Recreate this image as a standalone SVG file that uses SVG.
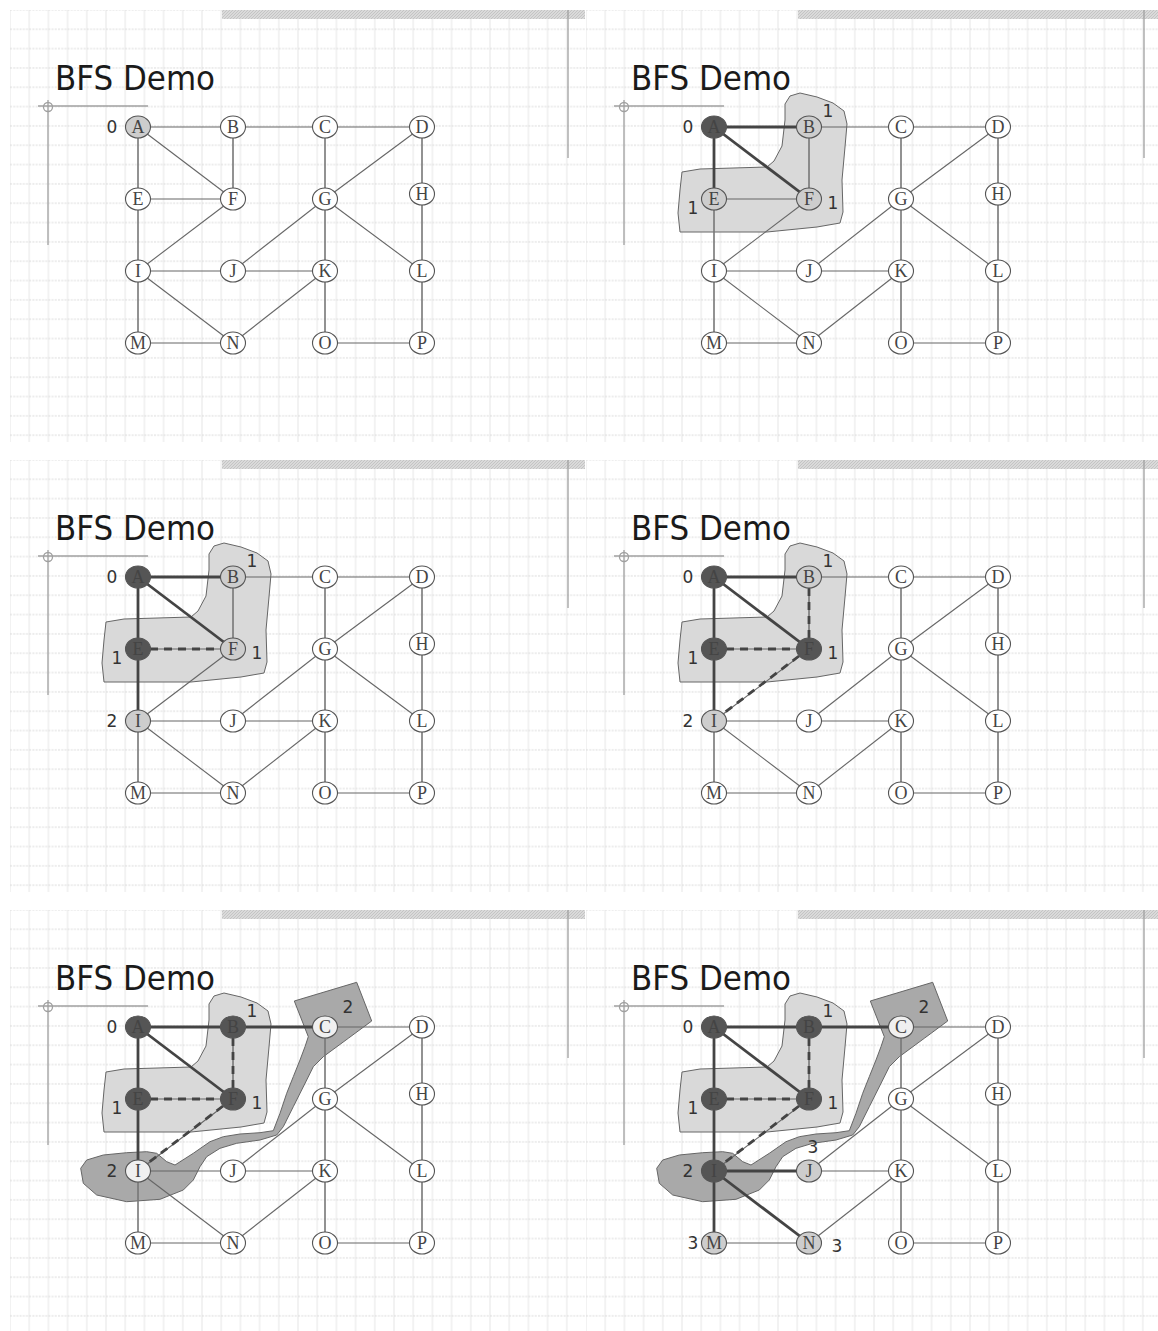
<svg xmlns="http://www.w3.org/2000/svg" xmlns:xlink="http://www.w3.org/1999/xlink" width="1158" height="1331" viewBox="0 0 1158 1331">
<style>
.e{stroke:#666;stroke-width:1.1;fill:none}
.ev{stroke:#777;stroke-width:1.6;fill:none}
.t{stroke:#444;stroke-width:2.8;fill:none}
.ds{stroke:#444;stroke-width:2.8;fill:none;stroke-dasharray:8,6}
.node ellipse{stroke:#555;stroke-width:1.1}
.w{fill:#fff}.l{fill:#cdcdcd}.d{fill:#555}.x{fill:#f0f0f0}
.node text{font-family:"Liberation Serif","Times New Roman",serif;font-size:18px;fill:#444;text-anchor:middle}
.lab{font-family:"DejaVu Sans","Liberation Sans",sans-serif;font-size:17px;fill:#333;text-anchor:middle}
.title{font-family:"DejaVu Sans","Liberation Sans",sans-serif;font-size:33px;fill:#1a1a1a}
.blob1{fill:#d9d9d9;stroke:#666;stroke-width:1}
.blob2{fill:#a9a9a9;stroke:#666;stroke-width:1}
.deco{stroke:#a0a0a0;stroke-width:1.3;fill:none}
</style>
<defs>
<pattern id="grid" patternUnits="userSpaceOnUse" x="19.6" y="19.6" width="19.2" height="19.33">
<line x1="9.6" y1="0" x2="9.6" y2="19.33" stroke="#e6e6e6" stroke-width="1"/>
<line x1="0" y1="9.67" x2="19.2" y2="9.67" stroke="#d9d9d9" stroke-width="1" stroke-dasharray="2,1.2"/>
</pattern>
<pattern id="hatch" patternUnits="userSpaceOnUse" width="3" height="3">
<rect width="3" height="3" fill="#dadada"/>
<path d="M0,3 L3,0" stroke="#c4c4c4" stroke-width="1"/>
</pattern>
<g id="bg">
<rect x="10" y="10" width="575" height="432" fill="#fff"/>
<rect x="10" y="10" width="575" height="432" fill="url(#grid)"/>
<rect x="222" y="10" width="363" height="9" fill="url(#hatch)"/>
<line class="deco" x1="568" y1="10" x2="568" y2="158"/>
<line class="deco" x1="38" y1="106" x2="148" y2="106"/>
<line class="deco" x1="48" y1="100" x2="48" y2="245"/>
<circle class="deco" cx="48" cy="107" r="4.5"/>
<text class="title" x="55" y="90" textLength="160" lengthAdjust="spacingAndGlyphs">BFS Demo</text>
</g>
<path id="blobL" class="blob1" d="M209,104 L214,96 L224,93 L241,97 L257,103 L268,111 L271,124 L269,147 L266,180 L267,212 L264,223 L241,227 L191,232 L104,232 L102,213 L104,190 L106,172 L124,169 L191,167 L198,161 L206,146 L209,120 Z"/>
<path id="blobD" class="blob2" d="M294.3,101 L356.7,82.3 L371.7,121 L348.3,138.3 L323.3,156.7 L313.3,166.7 L306.7,180 L293.3,206.7 L283.3,226.7 L276.7,235 L260,240 L236.7,243.3 L220,248.3 L206.7,256.7 L200,266.7 L193.3,280 L183.3,290 L160,299.3 L126.7,301.7 L96.7,295 L83.3,283.3 L80.7,268.3 L86.7,260 L103.3,255 L126.7,252.7 L146.7,251.7 L156.7,253.3 L166.7,261.7 L175,265 L193.3,253.3 L210,241.7 L223.3,236.7 L240,234 L260,232.7 L273.3,230.7 L280,213.3 L286.7,193.3 L293.3,176.7 L300,160 L305,146.7 L308.3,136.7 Z"/>
<g id="baseEdges">
<line class="e" x1="138" y1="127" x2="233" y2="127"/>
<line class="e" x1="233" y1="127" x2="325" y2="127"/>
<line class="e" x1="325" y1="127" x2="422" y2="127"/>
<line class="ev" x1="138" y1="127" x2="138" y2="199"/>
<line class="e" x1="138" y1="127" x2="233" y2="199"/>
<line class="ev" x1="233" y1="127" x2="233" y2="199"/>
<line class="e" x1="138" y1="199" x2="233" y2="199"/>
<line class="ev" x1="325" y1="127" x2="325" y2="199"/>
<line class="e" x1="422" y1="127" x2="325" y2="199"/>
<line class="ev" x1="422" y1="127" x2="422" y2="194"/>
<line class="ev" x1="422" y1="194" x2="422" y2="271"/>
<line class="ev" x1="138" y1="199" x2="138" y2="271"/>
<line class="e" x1="233" y1="199" x2="138" y2="271"/>
<line class="e" x1="325" y1="199" x2="233" y2="271"/>
<line class="ev" x1="325" y1="199" x2="325" y2="271"/>
<line class="e" x1="325" y1="199" x2="422" y2="271"/>
<line class="e" x1="138" y1="271" x2="233" y2="271"/>
<line class="e" x1="233" y1="271" x2="325" y2="271"/>
<line class="ev" x1="138" y1="271" x2="138" y2="343"/>
<line class="e" x1="138" y1="271" x2="233" y2="343"/>
<line class="e" x1="325" y1="271" x2="233" y2="343"/>
<line class="ev" x1="325" y1="271" x2="325" y2="343"/>
<line class="e" x1="138" y1="343" x2="233" y2="343"/>
<line class="e" x1="325" y1="343" x2="422" y2="343"/>
<line class="ev" x1="422" y1="271" x2="422" y2="343"/>
</g>
</defs>

<!-- Panel 1 -->
<g id="panel1">
<use xlink:href="#bg" href="#bg"/>
<g id="p1-connectors"><use xlink:href="#baseEdges" href="#baseEdges"/></g>
<g id="p1-A" class="node"><ellipse class="l" cx="138" cy="127" rx="12.5" ry="11"/><text x="138" y="133">A</text></g>
<g id="p1-B" class="node"><ellipse class="w" cx="233" cy="127" rx="12.5" ry="11"/><text x="233" y="133">B</text></g>
<g id="p1-C" class="node"><ellipse class="w" cx="325" cy="127" rx="12.5" ry="11"/><text x="325" y="133">C</text></g>
<g id="p1-D" class="node"><ellipse class="w" cx="422" cy="127" rx="12.5" ry="11"/><text x="422" y="133">D</text></g>
<g id="p1-E" class="node"><ellipse class="w" cx="138" cy="199" rx="12.5" ry="11"/><text x="138" y="205">E</text></g>
<g id="p1-F" class="node"><ellipse class="w" cx="233" cy="199" rx="12.5" ry="11"/><text x="233" y="205">F</text></g>
<g id="p1-G" class="node"><ellipse class="w" cx="325" cy="199" rx="12.5" ry="11"/><text x="325" y="205">G</text></g>
<g id="p1-H" class="node"><ellipse class="w" cx="422" cy="194" rx="12.5" ry="11"/><text x="422" y="200">H</text></g>
<g id="p1-I" class="node"><ellipse class="w" cx="138" cy="271" rx="12.5" ry="11"/><text x="138" y="277">I</text></g>
<g id="p1-J" class="node"><ellipse class="w" cx="233" cy="271" rx="12.5" ry="11"/><text x="233" y="277">J</text></g>
<g id="p1-K" class="node"><ellipse class="w" cx="325" cy="271" rx="12.5" ry="11"/><text x="325" y="277">K</text></g>
<g id="p1-L" class="node"><ellipse class="w" cx="422" cy="271" rx="12.5" ry="11"/><text x="422" y="277">L</text></g>
<g id="p1-M" class="node"><ellipse class="w" cx="138" cy="343" rx="12.5" ry="11"/><text x="138" y="349">M</text></g>
<g id="p1-N" class="node"><ellipse class="w" cx="233" cy="343" rx="12.5" ry="11"/><text x="233" y="349">N</text></g>
<g id="p1-O" class="node"><ellipse class="w" cx="325" cy="343" rx="12.5" ry="11"/><text x="325" y="349">O</text></g>
<g id="p1-P" class="node"><ellipse class="w" cx="422" cy="343" rx="12.5" ry="11"/><text x="422" y="349">P</text></g>
<text class="lab" x="112" y="133">0</text>
</g>

<!-- Panel 2 -->
<g id="panel2" transform="translate(576,0)">
<use xlink:href="#bg" href="#bg"/>
<use xlink:href="#blobL" href="#blobL"/>
<g id="p2-connectors"><use xlink:href="#baseEdges" href="#baseEdges"/>
<line class="t" x1="138" y1="127" x2="233" y2="127"/>
<line class="t" x1="138" y1="127" x2="138" y2="199"/>
<line class="t" x1="138" y1="127" x2="233" y2="199"/>
</g>
<g id="p2-A" class="node"><ellipse class="d" cx="138" cy="127" rx="12.5" ry="11"/><text x="138" y="133">A</text></g>
<g id="p2-B" class="node"><ellipse class="l" cx="233" cy="127" rx="12.5" ry="11"/><text x="233" y="133">B</text></g>
<g id="p2-C" class="node"><ellipse class="w" cx="325" cy="127" rx="12.5" ry="11"/><text x="325" y="133">C</text></g>
<g id="p2-D" class="node"><ellipse class="w" cx="422" cy="127" rx="12.5" ry="11"/><text x="422" y="133">D</text></g>
<g id="p2-E" class="node"><ellipse class="l" cx="138" cy="199" rx="12.5" ry="11"/><text x="138" y="205">E</text></g>
<g id="p2-F" class="node"><ellipse class="l" cx="233" cy="199" rx="12.5" ry="11"/><text x="233" y="205">F</text></g>
<g id="p2-G" class="node"><ellipse class="w" cx="325" cy="199" rx="12.5" ry="11"/><text x="325" y="205">G</text></g>
<g id="p2-H" class="node"><ellipse class="w" cx="422" cy="194" rx="12.5" ry="11"/><text x="422" y="200">H</text></g>
<g id="p2-I" class="node"><ellipse class="w" cx="138" cy="271" rx="12.5" ry="11"/><text x="138" y="277">I</text></g>
<g id="p2-J" class="node"><ellipse class="w" cx="233" cy="271" rx="12.5" ry="11"/><text x="233" y="277">J</text></g>
<g id="p2-K" class="node"><ellipse class="w" cx="325" cy="271" rx="12.5" ry="11"/><text x="325" y="277">K</text></g>
<g id="p2-L" class="node"><ellipse class="w" cx="422" cy="271" rx="12.5" ry="11"/><text x="422" y="277">L</text></g>
<g id="p2-M" class="node"><ellipse class="w" cx="138" cy="343" rx="12.5" ry="11"/><text x="138" y="349">M</text></g>
<g id="p2-N" class="node"><ellipse class="w" cx="233" cy="343" rx="12.5" ry="11"/><text x="233" y="349">N</text></g>
<g id="p2-O" class="node"><ellipse class="w" cx="325" cy="343" rx="12.5" ry="11"/><text x="325" y="349">O</text></g>
<g id="p2-P" class="node"><ellipse class="w" cx="422" cy="343" rx="12.5" ry="11"/><text x="422" y="349">P</text></g>
<text class="lab" x="112" y="133">0</text>
<text class="lab" x="252" y="117">1</text>
<text class="lab" x="117" y="214">1</text>
<text class="lab" x="257" y="209">1</text>
</g>

<!-- Panel 3 -->
<g id="panel3" transform="translate(0,450)">
<use xlink:href="#bg" href="#bg"/>
<use xlink:href="#blobL" href="#blobL"/>
<g id="p3-connectors"><use xlink:href="#baseEdges" href="#baseEdges"/>
<line class="t" x1="138" y1="127" x2="233" y2="127"/>
<line class="t" x1="138" y1="127" x2="138" y2="199"/>
<line class="t" x1="138" y1="127" x2="233" y2="199"/>
<line class="t" x1="138" y1="199" x2="138" y2="271"/>
<line class="ds" x1="150" y1="199" x2="221" y2="199"/>
</g>
<g id="p3-A" class="node"><ellipse class="d" cx="138" cy="127" rx="12.5" ry="11"/><text x="138" y="133">A</text></g>
<g id="p3-B" class="node"><ellipse class="l" cx="233" cy="127" rx="12.5" ry="11"/><text x="233" y="133">B</text></g>
<g id="p3-C" class="node"><ellipse class="w" cx="325" cy="127" rx="12.5" ry="11"/><text x="325" y="133">C</text></g>
<g id="p3-D" class="node"><ellipse class="w" cx="422" cy="127" rx="12.5" ry="11"/><text x="422" y="133">D</text></g>
<g id="p3-E" class="node"><ellipse class="d" cx="138" cy="199" rx="12.5" ry="11"/><text x="138" y="205">E</text></g>
<g id="p3-F" class="node"><ellipse class="l" cx="233" cy="199" rx="12.5" ry="11"/><text x="233" y="205">F</text></g>
<g id="p3-G" class="node"><ellipse class="w" cx="325" cy="199" rx="12.5" ry="11"/><text x="325" y="205">G</text></g>
<g id="p3-H" class="node"><ellipse class="w" cx="422" cy="194" rx="12.5" ry="11"/><text x="422" y="200">H</text></g>
<g id="p3-I" class="node"><ellipse class="l" cx="138" cy="271" rx="12.5" ry="11"/><text x="138" y="277">I</text></g>
<g id="p3-J" class="node"><ellipse class="w" cx="233" cy="271" rx="12.5" ry="11"/><text x="233" y="277">J</text></g>
<g id="p3-K" class="node"><ellipse class="w" cx="325" cy="271" rx="12.5" ry="11"/><text x="325" y="277">K</text></g>
<g id="p3-L" class="node"><ellipse class="w" cx="422" cy="271" rx="12.5" ry="11"/><text x="422" y="277">L</text></g>
<g id="p3-M" class="node"><ellipse class="w" cx="138" cy="343" rx="12.5" ry="11"/><text x="138" y="349">M</text></g>
<g id="p3-N" class="node"><ellipse class="w" cx="233" cy="343" rx="12.5" ry="11"/><text x="233" y="349">N</text></g>
<g id="p3-O" class="node"><ellipse class="w" cx="325" cy="343" rx="12.5" ry="11"/><text x="325" y="349">O</text></g>
<g id="p3-P" class="node"><ellipse class="w" cx="422" cy="343" rx="12.5" ry="11"/><text x="422" y="349">P</text></g>
<text class="lab" x="112" y="133">0</text>
<text class="lab" x="252" y="117">1</text>
<text class="lab" x="117" y="214">1</text>
<text class="lab" x="257" y="209">1</text>
<text class="lab" x="112" y="277">2</text>
</g>

<!-- Panel 4 -->
<g id="panel4" transform="translate(576,450)">
<use xlink:href="#bg" href="#bg"/>
<use xlink:href="#blobL" href="#blobL"/>
<g id="p4-connectors"><use xlink:href="#baseEdges" href="#baseEdges"/>
<line class="t" x1="138" y1="127" x2="233" y2="127"/>
<line class="t" x1="138" y1="127" x2="138" y2="199"/>
<line class="t" x1="138" y1="127" x2="233" y2="199"/>
<line class="t" x1="138" y1="199" x2="138" y2="271"/>
<line class="ds" x1="150" y1="199" x2="221" y2="199"/>
<line class="ds" x1="233" y1="138" x2="233" y2="188"/>
<line class="ds" x1="223" y1="206" x2="148" y2="263"/>
</g>
<g id="p4-A" class="node"><ellipse class="d" cx="138" cy="127" rx="12.5" ry="11"/><text x="138" y="133">A</text></g>
<g id="p4-B" class="node"><ellipse class="l" cx="233" cy="127" rx="12.5" ry="11"/><text x="233" y="133">B</text></g>
<g id="p4-C" class="node"><ellipse class="w" cx="325" cy="127" rx="12.5" ry="11"/><text x="325" y="133">C</text></g>
<g id="p4-D" class="node"><ellipse class="w" cx="422" cy="127" rx="12.5" ry="11"/><text x="422" y="133">D</text></g>
<g id="p4-E" class="node"><ellipse class="d" cx="138" cy="199" rx="12.5" ry="11"/><text x="138" y="205">E</text></g>
<g id="p4-F" class="node"><ellipse class="d" cx="233" cy="199" rx="12.5" ry="11"/><text x="233" y="205">F</text></g>
<g id="p4-G" class="node"><ellipse class="w" cx="325" cy="199" rx="12.5" ry="11"/><text x="325" y="205">G</text></g>
<g id="p4-H" class="node"><ellipse class="w" cx="422" cy="194" rx="12.5" ry="11"/><text x="422" y="200">H</text></g>
<g id="p4-I" class="node"><ellipse class="l" cx="138" cy="271" rx="12.5" ry="11"/><text x="138" y="277">I</text></g>
<g id="p4-J" class="node"><ellipse class="w" cx="233" cy="271" rx="12.5" ry="11"/><text x="233" y="277">J</text></g>
<g id="p4-K" class="node"><ellipse class="w" cx="325" cy="271" rx="12.5" ry="11"/><text x="325" y="277">K</text></g>
<g id="p4-L" class="node"><ellipse class="w" cx="422" cy="271" rx="12.5" ry="11"/><text x="422" y="277">L</text></g>
<g id="p4-M" class="node"><ellipse class="w" cx="138" cy="343" rx="12.5" ry="11"/><text x="138" y="349">M</text></g>
<g id="p4-N" class="node"><ellipse class="w" cx="233" cy="343" rx="12.5" ry="11"/><text x="233" y="349">N</text></g>
<g id="p4-O" class="node"><ellipse class="w" cx="325" cy="343" rx="12.5" ry="11"/><text x="325" y="349">O</text></g>
<g id="p4-P" class="node"><ellipse class="w" cx="422" cy="343" rx="12.5" ry="11"/><text x="422" y="349">P</text></g>
<text class="lab" x="112" y="133">0</text>
<text class="lab" x="252" y="117">1</text>
<text class="lab" x="117" y="214">1</text>
<text class="lab" x="257" y="209">1</text>
<text class="lab" x="112" y="277">2</text>
</g>

<!-- Panel 5 -->
<g id="panel5" transform="translate(0,900)">
<use xlink:href="#bg" href="#bg"/>
<use xlink:href="#blobL" href="#blobL"/>
<use xlink:href="#blobD" href="#blobD"/>
<g id="p5-connectors"><use xlink:href="#baseEdges" href="#baseEdges"/>
<line class="t" x1="138" y1="127" x2="233" y2="127"/>
<line class="t" x1="233" y1="127" x2="325" y2="127"/>
<line class="t" x1="138" y1="127" x2="138" y2="199"/>
<line class="t" x1="138" y1="127" x2="233" y2="199"/>
<line class="t" x1="138" y1="199" x2="138" y2="271"/>
<line class="ds" x1="150" y1="199" x2="221" y2="199"/>
<line class="ds" x1="233" y1="138" x2="233" y2="188"/>
<line class="ds" x1="223" y1="206" x2="148" y2="263"/>
</g>
<g id="p5-A" class="node"><ellipse class="d" cx="138" cy="127" rx="12.5" ry="11"/><text x="138" y="133">A</text></g>
<g id="p5-B" class="node"><ellipse class="d" cx="233" cy="127" rx="12.5" ry="11"/><text x="233" y="133">B</text></g>
<g id="p5-C" class="node"><ellipse class="x" cx="325" cy="127" rx="12.5" ry="11"/><text x="325" y="133">C</text></g>
<g id="p5-D" class="node"><ellipse class="w" cx="422" cy="127" rx="12.5" ry="11"/><text x="422" y="133">D</text></g>
<g id="p5-E" class="node"><ellipse class="d" cx="138" cy="199" rx="12.5" ry="11"/><text x="138" y="205">E</text></g>
<g id="p5-F" class="node"><ellipse class="d" cx="233" cy="199" rx="12.5" ry="11"/><text x="233" y="205">F</text></g>
<g id="p5-G" class="node"><ellipse class="w" cx="325" cy="199" rx="12.5" ry="11"/><text x="325" y="205">G</text></g>
<g id="p5-H" class="node"><ellipse class="w" cx="422" cy="194" rx="12.5" ry="11"/><text x="422" y="200">H</text></g>
<g id="p5-I" class="node"><ellipse class="x" cx="138" cy="271" rx="12.5" ry="11"/><text x="138" y="277">I</text></g>
<g id="p5-J" class="node"><ellipse class="w" cx="233" cy="271" rx="12.5" ry="11"/><text x="233" y="277">J</text></g>
<g id="p5-K" class="node"><ellipse class="w" cx="325" cy="271" rx="12.5" ry="11"/><text x="325" y="277">K</text></g>
<g id="p5-L" class="node"><ellipse class="w" cx="422" cy="271" rx="12.5" ry="11"/><text x="422" y="277">L</text></g>
<g id="p5-M" class="node"><ellipse class="w" cx="138" cy="343" rx="12.5" ry="11"/><text x="138" y="349">M</text></g>
<g id="p5-N" class="node"><ellipse class="w" cx="233" cy="343" rx="12.5" ry="11"/><text x="233" y="349">N</text></g>
<g id="p5-O" class="node"><ellipse class="w" cx="325" cy="343" rx="12.5" ry="11"/><text x="325" y="349">O</text></g>
<g id="p5-P" class="node"><ellipse class="w" cx="422" cy="343" rx="12.5" ry="11"/><text x="422" y="349">P</text></g>
<text class="lab" x="112" y="133">0</text>
<text class="lab" x="252" y="117">1</text>
<text class="lab" x="117" y="214">1</text>
<text class="lab" x="257" y="209">1</text>
<text class="lab" x="112" y="277">2</text>
<text class="lab" x="348" y="113">2</text>
</g>

<!-- Panel 6 -->
<g id="panel6" transform="translate(576,900)">
<use xlink:href="#bg" href="#bg"/>
<use xlink:href="#blobL" href="#blobL"/>
<use xlink:href="#blobD" href="#blobD"/>
<g id="p6-connectors"><use xlink:href="#baseEdges" href="#baseEdges"/>
<line class="t" x1="138" y1="127" x2="233" y2="127"/>
<line class="t" x1="233" y1="127" x2="325" y2="127"/>
<line class="t" x1="138" y1="127" x2="138" y2="199"/>
<line class="t" x1="138" y1="127" x2="233" y2="199"/>
<line class="t" x1="138" y1="199" x2="138" y2="271"/>
<line class="t" x1="138" y1="271" x2="233" y2="271"/>
<line class="t" x1="138" y1="271" x2="138" y2="343"/>
<line class="t" x1="138" y1="271" x2="233" y2="343"/>
<line class="ds" x1="150" y1="199" x2="221" y2="199"/>
<line class="ds" x1="233" y1="138" x2="233" y2="188"/>
<line class="ds" x1="223" y1="206" x2="148" y2="263"/>
</g>
<g id="p6-A" class="node"><ellipse class="d" cx="138" cy="127" rx="12.5" ry="11"/><text x="138" y="133">A</text></g>
<g id="p6-B" class="node"><ellipse class="d" cx="233" cy="127" rx="12.5" ry="11"/><text x="233" y="133">B</text></g>
<g id="p6-C" class="node"><ellipse class="x" cx="325" cy="127" rx="12.5" ry="11"/><text x="325" y="133">C</text></g>
<g id="p6-D" class="node"><ellipse class="w" cx="422" cy="127" rx="12.5" ry="11"/><text x="422" y="133">D</text></g>
<g id="p6-E" class="node"><ellipse class="d" cx="138" cy="199" rx="12.5" ry="11"/><text x="138" y="205">E</text></g>
<g id="p6-F" class="node"><ellipse class="d" cx="233" cy="199" rx="12.5" ry="11"/><text x="233" y="205">F</text></g>
<g id="p6-G" class="node"><ellipse class="w" cx="325" cy="199" rx="12.5" ry="11"/><text x="325" y="205">G</text></g>
<g id="p6-H" class="node"><ellipse class="w" cx="422" cy="194" rx="12.5" ry="11"/><text x="422" y="200">H</text></g>
<g id="p6-I" class="node"><ellipse class="d" cx="138" cy="271" rx="12.5" ry="11"/><text x="138" y="277">I</text></g>
<g id="p6-J" class="node"><ellipse class="l" cx="233" cy="271" rx="12.5" ry="11"/><text x="233" y="277">J</text></g>
<g id="p6-K" class="node"><ellipse class="w" cx="325" cy="271" rx="12.5" ry="11"/><text x="325" y="277">K</text></g>
<g id="p6-L" class="node"><ellipse class="w" cx="422" cy="271" rx="12.5" ry="11"/><text x="422" y="277">L</text></g>
<g id="p6-M" class="node"><ellipse class="l" cx="138" cy="343" rx="12.5" ry="11"/><text x="138" y="349">M</text></g>
<g id="p6-N" class="node"><ellipse class="l" cx="233" cy="343" rx="12.5" ry="11"/><text x="233" y="349">N</text></g>
<g id="p6-O" class="node"><ellipse class="w" cx="325" cy="343" rx="12.5" ry="11"/><text x="325" y="349">O</text></g>
<g id="p6-P" class="node"><ellipse class="w" cx="422" cy="343" rx="12.5" ry="11"/><text x="422" y="349">P</text></g>
<text class="lab" x="112" y="133">0</text>
<text class="lab" x="252" y="117">1</text>
<text class="lab" x="117" y="214">1</text>
<text class="lab" x="257" y="209">1</text>
<text class="lab" x="112" y="277">2</text>
<text class="lab" x="348" y="113">2</text>
<text class="lab" x="237" y="253">3</text>
<text class="lab" x="117" y="349">3</text>
<text class="lab" x="261" y="352">3</text>
</g>
</svg>
